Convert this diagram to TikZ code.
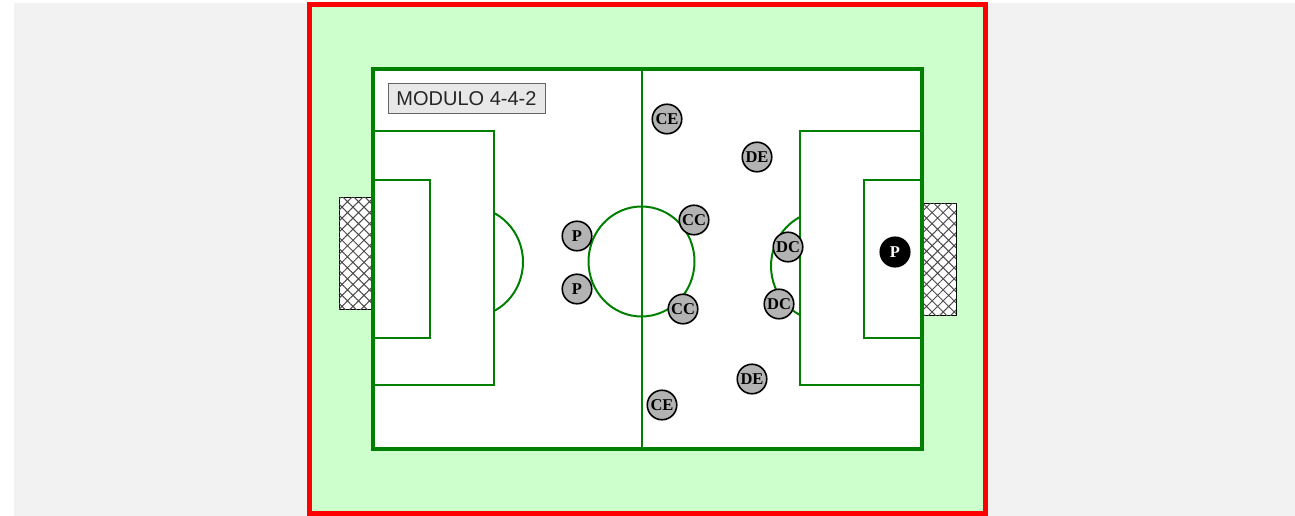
\documentclass[tikz,border=0pt]{standalone}
\usepackage{fontspec}
\setmainfont{Liberation Serif}
\newfontfamily\labelfont{Liberation Sans}
\usepackage{tikz}
\usetikzlibrary{
    patterns.meta
}
\definecolor{prato}{HTML}{CCFFCC}
\definecolor{sfondo}{HTML}{F2F2F2}
\definecolor{linea}{HTML}{008000}
\definecolor{maglia}{HTML}{B3B3B3}
\definecolor{cartello}{HTML}{E8E8E8}
\tikzset{
    giocatore/.style={
        circle,
        draw=black,
        line width=1.6pt,
        fill=maglia,
        minimum size=29.5pt,
        inner sep=0pt,
        font=\fontsize{16.5}{16.5}\selectfont\bfseries
    },
    portiere/.style={
        giocatore,
        fill=black,
        text=white
    },
    linea campo/.style={
        draw=linea,
        line width=2pt
    },
    rete/.style={
        draw=black,
        line width=1pt,
        fill=white,
        postaction={
            pattern={Hatch[angle=45, distance=7.8pt, line width=1pt]},
            pattern color=black!70
        }
    },
    cartello/.style={
        draw=black!60,
        fill=cartello,
        line width=1pt,
        minimum width=157pt,
        minimum height=30pt,
        inner sep=0pt,
        text=black!85,
        font=\labelfont\fontsize{20}{20}\selectfont
    }
}

\begin{document}
\begin{tikzpicture}[
    x=1pt,
    y=-1pt
]

    \useasboundingbox (0,0) rectangle (1295,516);

    % Sfondo
    \fill[white] (0,0) rectangle (1295,516);
    \fill[sfondo] (14,3) rectangle (1295,516);
    \draw[red, line width=5pt, fill=prato] (309.5,4.5) rectangle (985.5,513.5);

    % Porte
    \draw[rete] (339,197) rectangle (372,309);
    \draw[rete] (923,203) rectangle (956,315);

    % Campo
    \draw[linea, line width=4pt, fill=white] (373,69) rectangle (922,449);
    \draw[linea campo] (641.5,69) -- (641.5,449);
    \draw[linea campo] (641.5,261.5) ellipse[x radius=53pt, y radius=55pt];

    % Area sinistra
    \draw[linea campo] (373,131.5) rectangle (494,385);
    \draw[linea campo] (373,180) rectangle (430,338);
    \begin{scope}
        \clip (494,0) rectangle (600,516);
        \draw[linea campo] (470,262) ellipse[x radius=53pt, y radius=55pt];
    \end{scope}

    % Area destra
    \draw[linea campo] (922,131.5) rectangle (800,385);
    \draw[linea campo] (922,180) rectangle (864,338);
    \begin{scope}
        \clip (700,0) rectangle (800,516);
        \draw[linea campo] (824,266) ellipse[x radius=53pt, y radius=55pt];
    \end{scope}

    % Modulo
    \node[cartello] (modulo) at (466.5,99) {MODULO 4-4-2};

    % Punte
    \node[giocatore] (p1) at (577,236) {P};
    \node[giocatore] (p2) at (577,289) {P};

    % Centrocampisti
    \node[giocatore] (ce1) at (667,119) {CE};
    \node[giocatore] (cc1) at (694,220) {CC};
    \node[giocatore] (cc2) at (683,309) {CC};
    \node[giocatore] (ce2) at (662,405) {CE};

    % Difensori
    \node[giocatore] (de1) at (757,157) {DE};
    \node[giocatore] (dc1) at (788,247) {DC};
    \node[giocatore] (dc2) at (779,304) {DC};
    \node[giocatore] (de2) at (752,379) {DE};

    % Portiere
    \node[portiere]  (por) at (895,252) {P};

\end{tikzpicture}
\end{document}
